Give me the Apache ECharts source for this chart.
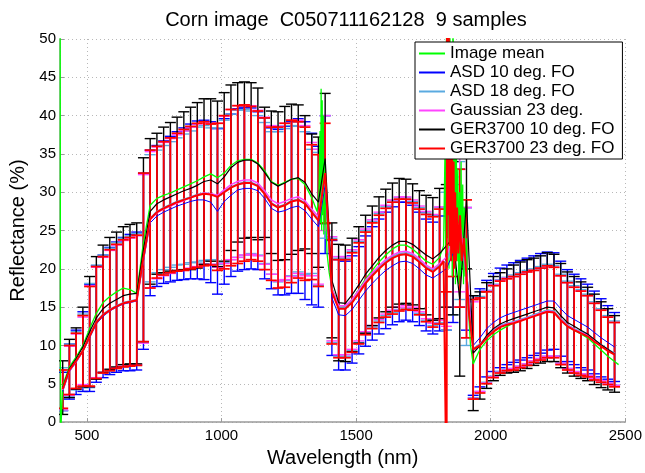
<!DOCTYPE html>
<html><head><meta charset="utf-8">
<script src="https://cdn.jsdelivr.net/npm/echarts@6/dist/echarts.min.js"></script>
<style>html,body{margin:0;padding:0;background:#fff}#c{width:645px;height:473px}</style>
</head><body><div id="c"></div>
<script>
const wavelengths = [410,435,460,485,510,535,560,585,610,635,660,685,710,735,760,785,810,835,860,885,910,935,960,985,1010,1035,1060,1085,1110,1135,1160,1185,1210,1235,1260,1285,1310,1335,1360,1385,1410,1435,1460,1485,1510,1535,1560,1585,1610,1635,1660,1685,1710,1735,1760,1785,1810,1835,1860,1885,1910,1935,1960,1985,2010,2035,2060,2085,2110,2135,2160,2185,2210,2235,2260,2285,2310,2335,2360,2385,2410,2435,2460];

const redMean = [4.3,6.8,8.0,9.3,11.2,13.0,14.0,14.6,15.1,15.5,15.7,15.9,
21.5,26.5,27.4,27.9,28.3,28.7,29.0,29.3,29.6,29.8,29.7,29.4,
30.0,30.6,31.0,31.2,31.2,30.8,29.8,28.5,28.0,28.3,28.8,29.0,
28.5,27.4,26.3,32.5,17.0,14.8,14.8,15.6,16.8,18.1,19.1,20.0,
20.8,21.4,21.8,21.9,21.6,20.9,20.1,19.6,20.3,26.0,28.0,24.0,
20.0,9.5,10.0,11.0,11.8,12.4,12.7,12.9,13.2,13.5,13.8,14.1,
14.4,14.3,13.3,12.5,12.0,11.6,11.2,10.5,9.9,9.3,8.8];
const redStd = [2.5,3.2,3.6,4.6,6.5,7.3,7.6,7.9,8.1,8.3,8.4,8.5,
11.0,9.0,8.6,8.7,8.8,9.0,9.2,9.3,9.4,9.4,9.2,9.6,
10.0,10.2,10.3,10.2,10.0,9.8,9.9,10.0,10.5,10.7,10.6,10.2,
10.0,8.8,8.6,6.5,6.8,6.4,6.4,6.5,6.6,6.7,6.9,7.0,
7.1,7.3,7.3,7.2,7.0,6.9,7.0,7.2,7.5,9.0,9.0,9.0,
9.0,6.5,6.2,6.0,6.0,6.0,6.0,6.1,6.1,6.1,6.0,6.0,
6.0,5.9,5.8,5.7,5.6,5.5,5.3,5.0,4.7,4.4,4.2];

const blackMean = [4.5,7.0,8.3,9.8,11.8,13.6,14.8,15.5,16.0,16.5,16.7,16.8,
22.5,27.5,28.5,29.0,29.4,29.8,30.2,30.5,30.9,31.4,31.6,31.1,
32.0,33.2,33.9,34.2,34.2,33.7,32.6,31.3,30.8,31.2,31.7,31.9,
31.3,29.8,28.7,34.4,18.5,15.6,15.5,16.6,17.9,19.3,20.4,21.5,
22.4,23.1,23.6,23.6,23.2,22.5,21.8,21.3,22.0,23.0,24.0,16.0,
29.0,9.0,10.0,11.3,12.2,12.8,13.2,13.5,13.8,14.1,14.4,14.7,
15.0,14.9,13.9,13.0,12.5,12.0,11.5,10.8,10.1,9.5,8.9];
const blackStd = [3.5,3.8,4.0,5.2,7.2,8.0,8.3,8.6,8.8,9.0,9.1,9.2,
12.0,9.5,9.2,9.5,9.7,10.0,10.3,10.6,10.8,10.8,10.6,10.8,
11.0,10.8,10.4,10.2,10.1,9.9,8.5,9.3,9.7,10.0,9.8,9.5,
8.7,7.8,8.5,8.5,7.5,7.6,7.6,7.4,7.6,7.7,7.8,7.9,
8.0,8.1,8.2,8.1,7.9,7.7,7.8,8.0,8.5,8.0,10.0,10.0,
9.0,7.5,7.0,6.9,6.8,6.7,6.8,7.0,7.1,7.1,7.0,7.0,
7.1,7.0,6.8,6.6,6.5,6.3,6.1,5.9,5.6,5.3,5.0];

const blueMean = [4.0,6.6,7.8,9.2,11.0,12.8,13.8,14.5,15.0,15.4,15.6,15.8,
21.0,26.0,26.9,27.4,27.8,28.2,28.5,28.8,29.0,29.0,28.7,27.5,
28.8,29.6,30.3,30.5,30.5,30.2,29.2,27.9,27.4,27.6,28.0,28.2,
27.6,26.5,25.5,31.0,16.2,14.0,13.9,14.7,15.9,17.1,18.1,19.0,
19.8,20.4,20.9,21.0,20.7,20.0,19.2,18.8,19.4,20.0,22.0,24.0,
20.0,10.0,11.0,12.2,13.0,13.6,14.0,14.3,14.6,14.9,15.2,15.5,
15.8,15.8,14.8,13.9,13.4,12.9,12.4,11.7,11.0,10.4,9.8];
const blueStd = [2.5,3.6,4.2,5.2,7.0,7.6,8.0,8.3,8.5,8.7,8.9,9.0,
11.5,9.5,9.2,9.3,9.5,9.7,9.9,10.1,10.3,10.4,10.5,10.8,
10.8,10.6,10.6,10.6,10.5,10.3,10.5,10.5,10.8,11.0,11.2,11.4,
11.6,11.2,10.5,9.0,7.5,7.2,7.1,7.0,7.0,7.2,7.4,7.5,
7.6,7.7,7.8,7.7,7.6,7.4,7.3,7.3,7.5,8.0,9.0,9.0,
8.0,6.5,6.4,6.3,6.4,6.5,6.5,6.5,6.5,6.5,6.5,6.5,
6.4,6.3,6.2,6.0,5.9,5.8,5.6,5.4,5.1,4.8,4.5];

const lightBlueMean = [4.3,6.8,8.0,9.3,11.3,13.1,14.1,14.7,15.2,15.6,15.8,16.0,
21.5,26.6,27.5,28.0,28.4,28.8,29.1,29.4,29.7,29.9,29.8,29.5,
30.1,30.7,31.1,31.3,31.3,30.9,29.9,28.6,28.1,28.4,28.9,29.1,
28.6,27.5,26.5,32.0,17.2,15.0,15.0,15.8,17.0,18.3,19.3,20.2,
21.0,21.6,22.0,22.1,21.8,21.1,20.3,19.8,20.5,21.0,23.0,25.0,
19.0,9.6,10.2,11.2,12.0,12.6,12.9,13.1,13.4,13.7,14.0,14.3,
14.6,14.5,13.5,12.7,12.2,11.8,11.4,10.7,10.1,9.5,9.0];
const lightBlueStd = [2.8,3.4,3.8,4.8,6.8,7.4,7.7,8.0,8.2,8.4,8.5,8.6,
11.0,8.3,8.0,8.1,8.2,8.3,8.5,8.6,8.8,8.8,8.6,8.9,
9.3,9.5,9.6,9.5,9.3,9.1,9.2,9.3,9.8,9.9,9.8,9.5,
9.3,8.1,8.7,8.0,6.8,6.4,6.4,6.5,6.6,6.7,6.9,7.0,
7.1,7.3,7.3,7.2,7.0,6.9,7.0,7.2,7.5,9.0,9.0,9.0,
9.0,6.4,6.2,6.0,6.0,6.0,6.0,6.1,6.1,6.1,6.0,6.0,
6.0,5.9,5.8,5.7,5.6,5.5,5.3,5.0,4.7,4.4,4.2];

const magentaMean = [4.2,6.7,7.9,9.3,11.2,13.0,14.0,14.6,15.1,15.5,15.7,15.9,
21.3,26.4,27.3,27.8,28.2,28.6,28.9,29.3,29.6,29.9,29.8,29.6,
30.3,31.0,31.4,31.6,31.6,31.2,30.2,29.0,28.5,28.8,29.2,29.4,
28.9,27.8,26.8,32.5,17.4,15.2,15.2,16.0,17.2,18.5,19.5,20.4,
21.2,21.8,22.2,22.3,22.0,21.3,20.5,20.0,20.7,21.5,24.0,26.0,
19.5,9.4,10.1,11.1,11.9,12.5,12.8,13.0,13.3,13.6,13.9,14.2,
14.5,14.4,13.4,12.6,12.1,11.7,11.3,10.6,10.0,9.4,8.9];
const magentaStd = [2.6,3.2,3.6,4.4,6.6,7.2,7.5,7.8,8.0,8.2,8.3,8.4,
11.0,8.9,8.6,8.7,8.8,8.9,9.1,9.2,9.3,9.3,9.2,9.4,
9.6,9.8,9.9,9.8,9.7,9.5,9.6,9.7,10.1,10.2,10.2,10.0,
9.8,8.7,8.8,7.5,6.8,6.4,6.4,6.5,6.6,6.7,6.9,7.0,
7.1,7.2,7.2,7.1,7.0,6.9,7.0,7.1,7.4,9.0,9.0,9.0,
8.5,6.3,6.1,6.0,6.0,6.0,6.0,6.0,6.0,6.0,5.9,5.9,
5.9,5.8,5.7,5.6,5.5,5.4,5.2,4.9,4.6,4.3,4.1];

const imageMeanWl = [400,402,410,435,460,485,510,535,560,585,610,635,660,685,710,735,760,785,810,835,860,885,910,935,960,985,1010,1035,1060,1085,1110,1135,1160,1185,1210,1235,1260,1285,1310,1335,1355,1362,1366,1368,1370,1372,1374,1376,1378,1380,1383,1386,1392,1400,1410,1435,1460,1485,1510,1535,1560,1585,1610,1635,1660,1685,1710,1735,1760,1785,1810,1825,1830,1833,1836,1839,1842,1845,1848,1851,1854,1857,1860,1863,1866,1869,1872,1875,1878,1881,1884,1887,1890,1893,1896,1899,1902,1905,1910,1915,1925,1935,1960,1985,2010,2035,2060,2085,2110,2135,2160,2185,2210,2235,2260,2285,2310,2335,2360,2385,2410,2435,2460,2475];
const imageMeanVal = [80,-2,4.8,7.2,8.5,10.0,12.2,14.2,15.6,16.4,17.0,17.5,17.3,16.8,23.5,28.3,29.2,29.6,29.9,30.3,30.7,31.1,31.5,32.0,32.4,31.9,32.5,33.5,34.1,34.3,34.3,33.8,32.8,31.4,30.9,31.3,31.7,31.8,31.0,29.3,27.5,30,38,26,43.5,25,42,27,40,24.5,34,28,22,19.5,17.5,15.2,15.1,16.0,17.3,18.7,19.8,20.9,21.8,22.6,23.1,23.1,22.6,21.8,21.0,20.6,21.5,23.0,35,22,55,24,48,20,58,25,40,19,56,23,42,18,38,21,33,18,30,19,34,20,31,18,28,19,24,16,10,7.6,9.5,10.6,11.4,12.0,12.5,12.9,13.3,13.6,14.0,14.3,14.6,14.5,13.4,12.5,12.0,11.5,11.0,10.2,9.4,8.6,7.9,7.5];

const redNoiseWl = [1825,1836,1838,1841,1844,1847,1850,1853,1856,1859,1862,1865,1868,1871,1875,1880,1886,1892,1900,1910,1920];
const redNoiseVal = [21.0,-10,60,27,55,23,42,21,36,22,34,20,30,21,28,22,27,21,24,19,14];

const seriesNames = ['Image mean','ASD 10 deg. FO','ASD 18 deg. FO','Gaussian 23 deg.','GER3700 10 deg. FO','GER3700 23 deg. FO'];

const FONT = '"Liberation Sans", Arial, Helvetica, sans-serif';

function pairs(xs, ys){ return xs.map((x,i)=>[x, ys[i]]); }
function triples(xs, m, s){ return xs.map((x,i)=>[x, m[i], s[i]]); }
function errRender(color, lw){
  return function(params, api){
    const x = api.value(0), m = api.value(1), s = api.value(2);
    const top = api.coord([x, m + s]);
    const bot = api.coord([x, m - s]);
    const hw = 5.5;
    const st = {stroke: color, lineWidth: lw, fill: null};
    return {type:'group', children:[
      {type:'line', shape:{x1:top[0], y1:top[1], x2:bot[0], y2:bot[1]}, style: st},
      {type:'line', shape:{x1:top[0]-hw, y1:top[1], x2:top[0]+hw, y2:top[1]}, style: st},
      {type:'line', shape:{x1:bot[0]-hw, y1:bot[1], x2:bot[0]+hw, y2:bot[1]}, style: st}
    ]};
  };
}
function errSeries(id, m, s, color, lw){
  return {type:'custom', name:id, data: triples(wavelengths, m, s), encode:{x:0, y:[1]},
    renderItem: errRender(color, lw), clip:true, silent:true, animation:false};
}
function lineSeries(name, data, color, lw){
  return {type:'line', name:name, data:data, symbol:'none', showSymbol:false, clip:true,
    lineStyle:{color:color, width:lw}, itemStyle:{color:color}, animation:false, silent:true};
}

// red line: grid values outside the noisy band plus noisy points inside it
const redLine = pairs(wavelengths, redMean).filter(p => p[0] < 1825 || p[0] >= 1935)
  .concat(pairs(redNoiseWl, redNoiseVal)).sort((a,b)=>a[0]-b[0]);

const colors = {green:'#00ff00', blue:'#0000ff', lblue:'#5aaae0', mag:'#ff44ff', black:'#000000', red:'#ff0000'};

const chart = echarts.init(document.getElementById('c'), null, {renderer:'canvas'});
chart.setOption({
  backgroundColor:'#ffffff',
  animation:false,
  title:{text:'Corn image  C050711162128  9 samples', left:341, top:5, textAlign:'center',
    textStyle:{fontFamily:FONT, fontSize:20, fontWeight:'normal', color:'#000'}},
  grid:{left:56, right:18, top:39, bottom:40, containLabel:false},
  legend:{data:seriesNames.map(n => ({name:n, icon:'rect'})), orient:'vertical', left:415, top:42, padding:[2,8,1,4], itemGap:0,
    itemWidth:26, itemHeight:2, backgroundColor:'#ffffff', borderColor:'#000', borderWidth:1, borderRadius:0,
    selectedMode:false,
    textStyle:{fontFamily:FONT, fontSize:17, color:'#000', lineHeight:19}},
  xAxis:{type:'value', min:400, max:2500, splitNumber:5,
    name:'Wavelength (nm)', nameLocation:'middle', nameGap:23,
    nameTextStyle:{fontFamily:FONT, fontSize:20, color:'#000'},
    axisLine:{show:true, onZero:false, lineStyle:{color:'#9a9a9a', width:1.5}},
    axisTick:{show:true, inside:true, length:4, lineStyle:{color:'#9a9a9a'}},
    axisLabel:{fontFamily:FONT, fontSize:15, color:'#000', margin:6, showMinLabel:false,
      formatter: v => (v % 500 === 0 ? String(v) : '')},
    splitLine:{show:true, lineStyle:{color:'#b8b8b8', type:[1,3], width:1}}},
  yAxis:{type:'value', min:0, max:50, interval:5,
    name:'Reflectance (%)', nameLocation:'middle', nameGap:32,
    nameTextStyle:{fontFamily:FONT, fontSize:20, color:'#000'},
    axisLine:{show:true, onZero:false, lineStyle:{color:'#9a9a9a', width:1.5}},
    axisTick:{show:true, inside:true, length:4, lineStyle:{color:'#9a9a9a'}},
    axisLabel:{fontFamily:FONT, fontSize:15, color:'#000', margin:4},
    splitLine:{show:true, lineStyle:{color:'#b8b8b8', type:[1,3], width:1}}},
  series:[
    lineSeries(seriesNames[0], pairs(imageMeanWl, imageMeanVal), colors.green, 1.3),
    errSeries('e-blue', blueMean, blueStd, colors.blue, 1.4),
    lineSeries(seriesNames[1], pairs(wavelengths, blueMean), colors.blue, 1),
    errSeries('e-lblue', lightBlueMean, lightBlueStd, colors.lblue, 1.4),
    lineSeries(seriesNames[2], pairs(wavelengths, lightBlueMean), colors.lblue, 1.5),
    errSeries('e-mag', magentaMean, magentaStd, colors.mag, 1.4),
    lineSeries(seriesNames[3], pairs(wavelengths, magentaMean), colors.mag, 1.5),
    errSeries('e-black', blackMean, blackStd, colors.black, 1.4),
    lineSeries(seriesNames[4], pairs(wavelengths, blackMean), colors.black, 1.2),
    errSeries('e-red', redMean, redStd, colors.red, 1.7),
    lineSeries(seriesNames[5], redLine, colors.red, 2)
  ]
});
</script></body></html>
